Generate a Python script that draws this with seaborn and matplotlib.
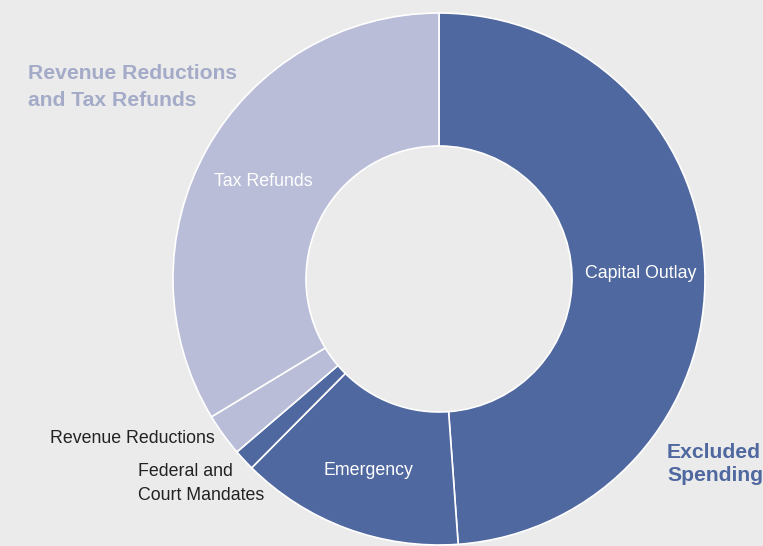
import numpy as np
import matplotlib.pyplot as plt
import seaborn as sns

# Slice data (clockwise from top)
categories = ['Capital Outlay', 'Emergency', 'Federal and\nCourt Mandates',
              'Revenue Reductions', 'Tax Refunds']
shares = [48.9, 13.6, 1.3, 2.6, 33.7]
groups = ['excluded', 'excluded', 'excluded', 'revenue', 'revenue']
inside_label = [True, True, False, False, True]

dark = '#5068a0'
light = '#b9bdd8'
bg = '#ebebeb'
colors = [dark if g == 'excluded' else light for g in groups]

sns.set_theme(style='white')
plt.rcParams['font.family'] = ['Liberation Sans', 'DejaVu Sans']

fig = plt.figure(figsize=(7.63, 5.46), dpi=100, facecolor=bg)
ax = fig.add_axes([0, 0, 1, 1])
ax.set_facecolor(bg)

wedges, _ = ax.pie(shares, colors=colors, startangle=90, counterclock=False,
                   radius=1.0,
                   wedgeprops=dict(width=0.5, edgecolor='white', linewidth=1.2))

# put the pie centre at pixel (439, 279), radius 266 px
R = 266.0
ax.set_xlim(-439 / R, (763 - 439) / R)
ax.set_ylim(-(546 - 279) / R, 279 / R)
ax.set_aspect('auto')
ax.axis('off')

# labels inside the ring
for w, lab, inside in zip(wedges, categories, inside_label):
    if not inside:
        continue
    ang = np.deg2rad((w.theta1 + w.theta2) / 2)
    ax.text(0.76 * np.cos(ang), 0.76 * np.sin(ang) - 0.008, lab, color='white',
            fontsize=12.8, ha='center', va='center')

# labels for the thin slices
ax.text(-0.842, -0.598, 'Revenue Reductions', color='#222222', fontsize=12.8,
        ha='right', va='center')
ax.text(-1.13, -0.769, 'Federal and\nCourt Mandates', color='#222222', fontsize=12.8,
        ha='left', va='center', linespacing=1.55)

# group headings
fig.text(28 / 763, 1 - 87 / 546, 'Revenue Reductions\nand Tax Refunds', color='#a4abc8',
         fontsize=15.2, fontweight='bold', ha='left', va='center', linespacing=1.52)
fig.text(667 / 763, 1 - 464 / 546, 'Excluded\nSpending', color=dark,
         fontsize=15.2, fontweight='bold', ha='left', va='center', linespacing=1.3)

plt.savefig('out.png', dpi=100, facecolor=bg)
